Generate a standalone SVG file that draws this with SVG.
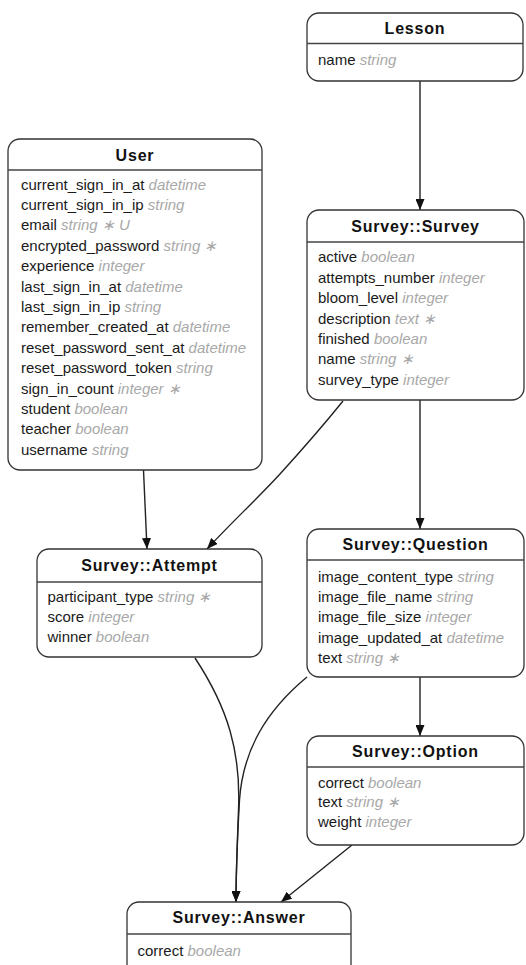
<svg xmlns="http://www.w3.org/2000/svg" width="526" height="965" viewBox="0 0 526 965">
  <style>
    .box { fill: #ffffff; stroke: #333333; stroke-width: 1.3; }
    .div { stroke: #444444; stroke-width: 1.7; }
    .title { font-family: "Liberation Sans", Arial, sans-serif; font-size: 16px; font-weight: bold; fill: #111111; text-anchor: middle; letter-spacing: 0.8px; }
    .attr { font-family: "Liberation Sans", Arial, sans-serif; font-size: 15px; fill: #1a1a1a; }
    .t { font-style: italic; fill: #a8a8a8; }
    .edge { fill: none; stroke: #222222; stroke-width: 1.4; marker-end: url(#arrow); }
  </style>
  <defs>
    <marker id="arrow" markerUnits="userSpaceOnUse" markerWidth="12" markerHeight="9" refX="11" refY="4.5" orient="auto">
      <path d="M0,0 L11,4.5 L0,9 z" fill="#111111"/>
    </marker>
  </defs>
  <rect width="526" height="965" fill="#ffffff"/>

  <!-- relationships -->
  <g id="edges">
    <path class="edge" d="M420,81 L420,210"/>
    <path class="edge" d="M420,400 L420,529"/>
    <path class="edge" d="M420,677 L420,736"/>
    <path class="edge" d="M143.5,470 L147,549"/>
    <path class="edge" d="M343,401 C318,432 300,452 280,474 C258,498 232,522 207,549"/>
    <path class="edge" d="M195,658 C228,708 241,752 238.5,810 C237,850 236,875 236,902"/>
    <path class="edge" d="M307,677 C266,711 243,750 239.5,800 C237,845 236,875 236,902"/>
    <path class="edge" d="M352,845 L281,902"/>
  </g>

  <g id="lesson">
    <rect class="box" x="307" y="13" width="216" height="68" rx="12"/>
    <line class="div" x1="307" y1="43.5" x2="523" y2="43.5"/>
    <text class="title" x="415" y="34">Lesson</text>
    <text class="attr" x="318" y="64.5">name <tspan class="t">string</tspan></text>
  </g>

  <g id="user">
    <rect class="box" x="8" y="139" width="254" height="331" rx="12"/>
    <line class="div" x1="8" y1="170" x2="262" y2="170"/>
    <text class="title" x="135" y="160.5">User</text>
    <text class="attr" x="21" y="189.5">current_sign_in_at <tspan class="t">datetime</tspan></text>
    <text class="attr" x="21" y="209.9">current_sign_in_ip <tspan class="t">string</tspan></text>
    <text class="attr" x="21" y="230.3">email <tspan class="t">string ∗ U</tspan></text>
    <text class="attr" x="21" y="250.7">encrypted_password <tspan class="t">string ∗</tspan></text>
    <text class="attr" x="21" y="271.1">experience <tspan class="t">integer</tspan></text>
    <text class="attr" x="21" y="291.5">last_sign_in_at <tspan class="t">datetime</tspan></text>
    <text class="attr" x="21" y="311.9">last_sign_in_ip <tspan class="t">string</tspan></text>
    <text class="attr" x="21" y="332.3">remember_created_at <tspan class="t">datetime</tspan></text>
    <text class="attr" x="21" y="352.7">reset_password_sent_at <tspan class="t">datetime</tspan></text>
    <text class="attr" x="21" y="373.1">reset_password_token <tspan class="t">string</tspan></text>
    <text class="attr" x="21" y="393.5">sign_in_count <tspan class="t">integer ∗</tspan></text>
    <text class="attr" x="21" y="413.9">student <tspan class="t">boolean</tspan></text>
    <text class="attr" x="21" y="434.3">teacher <tspan class="t">boolean</tspan></text>
    <text class="attr" x="21" y="454.7">username <tspan class="t">string</tspan></text>
  </g>

  <g id="survey">
    <rect class="box" x="307" y="210" width="217" height="190" rx="12"/>
    <line class="div" x1="307" y1="242" x2="524" y2="242"/>
    <text class="title" x="415.5" y="231.5">Survey::Survey</text>
    <text class="attr" x="318" y="262.3">active <tspan class="t">boolean</tspan></text>
    <text class="attr" x="318" y="282.7">attempts_number <tspan class="t">integer</tspan></text>
    <text class="attr" x="318" y="303.1">bloom_level <tspan class="t">integer</tspan></text>
    <text class="attr" x="318" y="323.5">description <tspan class="t">text ∗</tspan></text>
    <text class="attr" x="318" y="343.9">finished <tspan class="t">boolean</tspan></text>
    <text class="attr" x="318" y="364.3">name <tspan class="t">string ∗</tspan></text>
    <text class="attr" x="318" y="384.7">survey_type <tspan class="t">integer</tspan></text>
  </g>

  <g id="attempt">
    <rect class="box" x="37" y="549" width="225" height="108" rx="12"/>
    <line class="div" x1="37" y1="582" x2="262" y2="582"/>
    <text class="title" x="149.5" y="571">Survey::Attempt</text>
    <text class="attr" x="47.5" y="601.7">participant_type <tspan class="t">string ∗</tspan></text>
    <text class="attr" x="47.5" y="621.7">score <tspan class="t">integer</tspan></text>
    <text class="attr" x="47.5" y="641.7">winner <tspan class="t">boolean</tspan></text>
  </g>

  <g id="question">
    <rect class="box" x="307" y="529" width="217" height="148" rx="12"/>
    <line class="div" x1="307" y1="560" x2="524" y2="560"/>
    <text class="title" x="415.5" y="550">Survey::Question</text>
    <text class="attr" x="318" y="581.7">image_content_type <tspan class="t">string</tspan></text>
    <text class="attr" x="318" y="602">image_file_name <tspan class="t">string</tspan></text>
    <text class="attr" x="318" y="622.3">image_file_size <tspan class="t">integer</tspan></text>
    <text class="attr" x="318" y="642.6">image_updated_at <tspan class="t">datetime</tspan></text>
    <text class="attr" x="318" y="662.9">text <tspan class="t">string ∗</tspan></text>
  </g>

  <g id="option">
    <rect class="box" x="307" y="736" width="217" height="109" rx="12"/>
    <line class="div" x1="307" y1="767" x2="524" y2="767"/>
    <text class="title" x="415.5" y="757">Survey::Option</text>
    <text class="attr" x="318" y="787.5">correct <tspan class="t">boolean</tspan></text>
    <text class="attr" x="318" y="807.3">text <tspan class="t">string ∗</tspan></text>
    <text class="attr" x="318" y="827.1">weight <tspan class="t">integer</tspan></text>
  </g>

  <g id="answer">
    <rect class="box" x="127" y="902" width="224" height="76" rx="12"/>
    <line class="div" x1="127" y1="934" x2="351" y2="934"/>
    <text class="title" x="239" y="922.5">Survey::Answer</text>
    <text class="attr" x="137.5" y="956">correct <tspan class="t">boolean</tspan></text>
  </g>
</svg>
